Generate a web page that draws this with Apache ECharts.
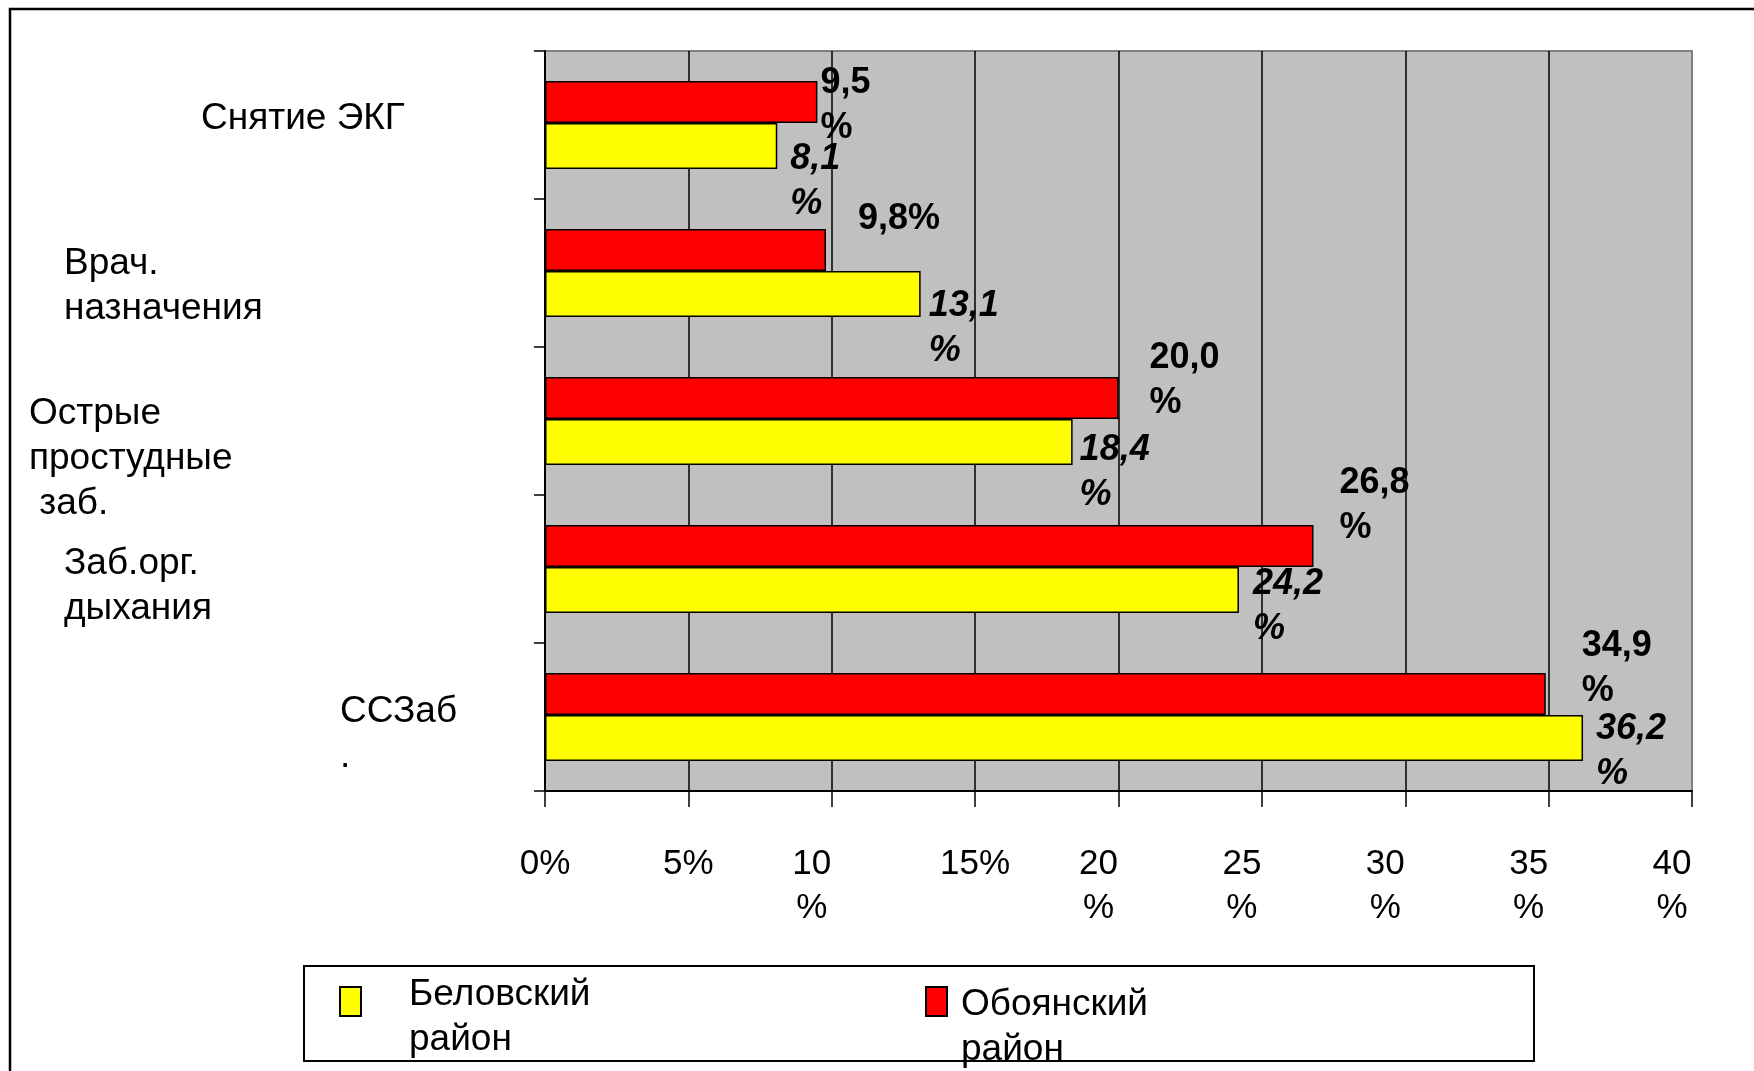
<!DOCTYPE html>
<html>
<head>
<meta charset="utf-8">
<script src="https://cdn.jsdelivr.net/npm/echarts@6/dist/echarts.min.js"></script>
<style>
html,body{margin:0;padding:0;background:#fff;}
#chart{width:1754px;height:1071px;}
</style>
</head>
<body>
<div id="chart"></div>
<script>
// ---- data ----
const categories = ['Снятие ЭКГ', 'Врач.\nназначения', 'Острые\nпростудные\n заб.', 'Заб.орг.\nдыхания', 'ССЗаб\n.'];
const seriesNames = ['Беловский район', 'Обоянский район'];
const belovsky = [8.1, 13.1, 18.4, 24.2, 36.2];
const oboyan = [9.5, 9.8, 20.0, 26.8, 34.9];
const tickLabels = ['0%', '5%', '10\n%', '15%', '20\n%', '25\n%', '30\n%', '35\n%', '40\n%'];

// ---- layout tweaks (label nudges, not data) ----
const redLabelNudge = [[3, 4], [32, -31], [31, -17], [26, -40], [36, -25]];
const yellowLabelNudge = [[13, 36], [8, 35], [7, 31], [14, 17], [13, 14]];
const redWrap = [true, false, true, true, true];
const catLabelLeft = [172, 35, 0, 35, 311];
// vertical shift of each category label block (+ = down), in px
const catLabelShift = [-6, 13, 38, 17, 17];

const FONT = 'Liberation Sans, Arial, sans-serif';

function fmtVal(v, wrap) {
  const s = v.toFixed(1).replace('.', ',');
  return wrap ? s + '\n%' : s + '%';
}

const redData = oboyan.map((v, i) => ({
  value: v,
  label: { offset: redLabelNudge[i], formatter: () => fmtVal(v, redWrap[i]) }
}));
const yellowData = belovsky.map((v, i) => ({
  value: v,
  label: { offset: yellowLabelNudge[i], formatter: () => fmtVal(v, true) }
}));

const catRich = { t: { fontFamily: FONT, fontSize: 37, lineHeight: 45, color: '#000' } };
catLabelShift.forEach((s, i) => {
  catRich['sp' + i] = { fontSize: 1, lineHeight: Math.abs(s) * 2 };
});

function catFormatter(value, index) {
  const lines = String(value).split('\n').map(l => '{t|' + l + '}');
  const s = catLabelShift[index];
  if (s > 0) lines.unshift('{sp' + index + '| }');
  else if (s < 0) lines.push('{sp' + index + '| }');
  return lines.join('\n');
}

const chart = echarts.init(document.getElementById('chart'));
const option = {
  animation: false,
  backgroundColor: '#ffffff',
  textStyle: { fontFamily: FONT },
  graphic: [
    { type: 'rect', z: 0, shape: { x: 10, y: 9, width: 1800, height: 1120 },
      style: { fill: 'none', stroke: '#000', lineWidth: 2.5 } },
    { type: 'rect', z: 0, shape: { x: 304, y: 966, width: 1230, height: 95 },
      style: { fill: '#fff', stroke: '#000', lineWidth: 2 } }
  ],
  grid: {
    left: 545, top: 51, width: 1147, height: 740,
    show: true, backgroundColor: '#C0C0C0', borderColor: '#808080', borderWidth: 2,
    containLabel: false, outerBoundsMode: 'none'
  },
  legend: [
    {
      data: [seriesNames[0]], left: 339, top: 940.5, padding: 0, z: 10,
      itemWidth: 21, itemHeight: 29, icon: 'rect',
      itemStyle: { borderColor: '#000', borderWidth: 2 },
      formatter: n => '{sp| }\n' + n.split(' ').map(p => '{a|' + p + '}').join('\n'),
      textStyle: {
        fontFamily: FONT, fontSize: 37, lineHeight: 45, color: '#000', padding: [0, 0, 0, 43],
        rich: { sp: { fontSize: 10, lineHeight: 32 }, a: { fontFamily: FONT, fontSize: 37, lineHeight: 45, color: '#000' } }
      }
    },
    {
      data: [seriesNames[1]], left: 925, top: 930.5, padding: 0, z: 10,
      itemWidth: 21, itemHeight: 29, icon: 'rect',
      itemStyle: { borderColor: '#000', borderWidth: 2 },
      formatter: n => '{sp| }\n' + n.split(' ').map(p => '{a|' + p + '}').join('\n'),
      textStyle: {
        fontFamily: FONT, fontSize: 37, lineHeight: 45, color: '#000', padding: [0, 0, 0, 9],
        rich: { sp: { fontSize: 10, lineHeight: 52 }, a: { fontFamily: FONT, fontSize: 37, lineHeight: 45, color: '#000' } }
      }
    }
  ],
  xAxis: {
    type: 'value', min: 0, max: 40, interval: 5, position: 'bottom',
    axisLine: { show: true, lineStyle: { color: '#000', width: 2 } },
    axisTick: { show: true, length: 16, lineStyle: { color: '#000', width: 1.5 } },
    splitLine: { show: true, showMinLine: false, showMaxLine: false, lineStyle: { color: '#000', width: 1.5 } },
    axisLabel: {
      margin: 51, fontFamily: FONT, fontSize: 35, lineHeight: 44, color: '#000', verticalAlign: 'top',
      formatter: (v) => {
        const t = tickLabels[Math.round(v / 5)];
        if (t.indexOf('\n') >= 0) {
          return t.split('\n').map(p => '{s|' + p + '}').join('\n');
        }
        return t;
      },
      rich: { s: { fontFamily: FONT, fontSize: 35, lineHeight: 44, color: '#000', padding: [0, 40, 0, 0] } }
    }
  },
  yAxis: {
    type: 'category', inverse: true,
    data: categories.map((c, i) => ({
      value: c,
      textStyle: { align: 'left', padding: [0, 0, 0, catLabelLeft[i]], fontFamily: FONT, fontSize: 37,
        lineHeight: 45, color: '#000', rich: catRich }
    })),
    axisLine: { show: true, lineStyle: { color: '#000', width: 2 } },
    axisTick: { show: true, length: 11, lineStyle: { color: '#000', width: 1.5 } },
    splitLine: { show: false },
    axisLabel: {
      interval: 0, align: 'left', margin: 516, fontFamily: FONT, fontSize: 37, lineHeight: 45, color: '#000',
      formatter: catFormatter, rich: catRich
    }
  },
  series: [
    {
      name: seriesNames[1], type: 'bar', data: redData, barWidth: 42, barGap: '0%',
      itemStyle: { color: '#FF0000', borderColor: '#000', borderWidth: 1.5 },
      label: { show: true, position: 'right', distance: 0, fontFamily: FONT, fontSize: 36, lineHeight: 45,
        fontWeight: 'bold', color: '#000', align: 'left' }
    },
    {
      name: seriesNames[0], type: 'bar', data: yellowData, barWidth: 46, barGap: '0%',
      itemStyle: { color: '#FFFF00', borderColor: '#000', borderWidth: 1.5 },
      label: { show: true, position: 'right', distance: 0, fontFamily: FONT, fontSize: 36, lineHeight: 45,
        fontWeight: 'bold', fontStyle: 'italic', color: '#000', align: 'left' }
    }
  ]
};
chart.setOption(option);
</script>
</body>
</html>
